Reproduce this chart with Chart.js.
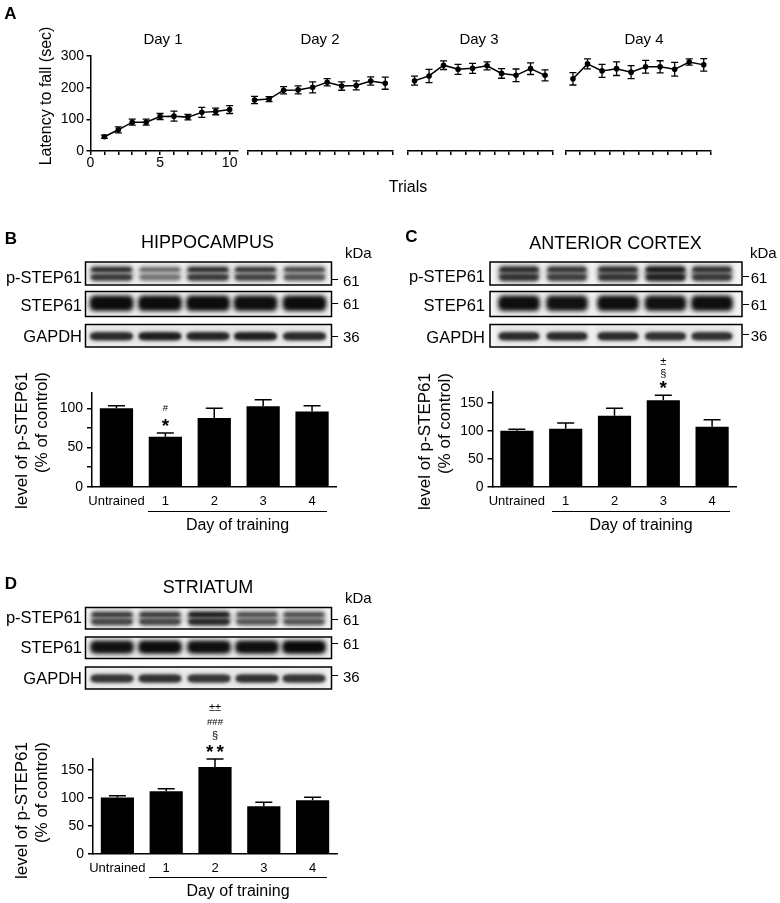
<!DOCTYPE html>
<html><head><meta charset="utf-8">
<script src="https://cdn.jsdelivr.net/npm/chart.js@4.4.1/dist/chart.umd.min.js"></script>
<style>
html,body{margin:0;padding:0;background:#fff;}
#page{position:relative;width:780px;height:903px;overflow:hidden;background:#fff;font-family:"Liberation Sans",Arial,Helvetica,sans-serif;color:#000;}
#charts canvas{position:absolute;left:0;top:0;}
.t{position:absolute;white-space:nowrap;line-height:1;transform:translate(-50%,-50%);}
.l{position:absolute;white-space:nowrap;line-height:1;transform:translate(0,-50%);}
.r{position:absolute;white-space:nowrap;line-height:1;transform:translate(-100%,-50%);}
.v{position:absolute;white-space:nowrap;line-height:1;transform-origin:0 0;transform:rotate(-90deg) translate(-50%,-50%);}
.vt{position:absolute;white-space:pre;line-height:20px;transform-origin:0 0;transform:rotate(-90deg) translate(-100%,-50%);text-align:right;font-size:17px;}
.hl{position:absolute;height:0;border-top:1.5px solid #000;}
.bold{font-weight:bold;}
</style></head><body>
<div id="page">
<div id="charts"></div>

<!-- Panel A texts -->
<div class="t bold" style="left:10.5px;top:12.5px;font-size:17px">A</div>
<div class="t" style="left:163px;top:38px;font-size:15px">Day 1</div>
<div class="t" style="left:320px;top:38px;font-size:15px">Day 2</div>
<div class="t" style="left:479px;top:38px;font-size:15px">Day 3</div>
<div class="t" style="left:644px;top:38px;font-size:15px">Day 4</div>
<div class="v" style="left:46px;top:96px;font-size:16px">Latency to fall (sec)</div>
<div class="t" style="left:408px;top:187px;font-size:16px">Trials</div>

<!-- Panel B texts -->
<div class="t bold" style="left:11px;top:237.5px;font-size:17px">B</div>
<div class="t" style="left:207.5px;top:242px;font-size:18px">HIPPOCAMPUS</div>
<div class="l" style="left:345px;top:252.3px;font-size:15px">kDa</div>
<div class="r" style="left:82px;top:276.5px;font-size:16.5px">p-STEP61</div>
<div class="r" style="left:82px;top:304.5px;font-size:16.5px">STEP61</div>
<div class="r" style="left:82px;top:336px;font-size:16.5px">GAPDH</div>
<div class="hl" style="left:331.5px;width:6px;top:279.2px"></div>
<div class="hl" style="left:331.5px;width:6px;top:302.5px"></div>
<div class="hl" style="left:331.5px;width:6px;top:335.8px"></div>
<div class="l" style="left:343px;top:280px;font-size:15px">61</div>
<div class="l" style="left:343px;top:302.5px;font-size:15px">61</div>
<div class="l" style="left:343px;top:335.5px;font-size:15px">36</div>
<div class="vt" style="left:32px;top:372px">level of p-STEP61
(% of control)</div>
<div class="hl" style="left:148.3px;width:178.4px;top:511px"></div>
<div class="t" style="left:237.5px;top:525px;font-size:16px">Day of training</div>

<!-- Panel C texts -->
<div class="t bold" style="left:411.5px;top:236px;font-size:17px">C</div>
<div class="t" style="left:615.5px;top:242.5px;font-size:18px">ANTERIOR CORTEX</div>
<div class="l" style="left:750px;top:251.7px;font-size:15px">kDa</div>
<div class="r" style="left:485px;top:276px;font-size:16.5px">p-STEP61</div>
<div class="r" style="left:485px;top:305px;font-size:16.5px">STEP61</div>
<div class="r" style="left:485px;top:336.7px;font-size:16.5px">GAPDH</div>
<div class="hl" style="left:742.5px;width:6px;top:276px"></div>
<div class="hl" style="left:742.5px;width:6px;top:303.6px"></div>
<div class="hl" style="left:742.5px;width:6px;top:334.3px"></div>
<div class="l" style="left:750.7px;top:276.7px;font-size:15px">61</div>
<div class="l" style="left:750.7px;top:304.3px;font-size:15px">61</div>
<div class="l" style="left:750.7px;top:335px;font-size:15px">36</div>
<div class="vt" style="left:435px;top:373px">level of p-STEP61
(% of control)</div>
<div class="hl" style="left:551.7px;width:178.3px;top:511px"></div>
<div class="t" style="left:641px;top:525px;font-size:16px">Day of training</div>

<!-- Panel D texts -->
<div class="t bold" style="left:11px;top:582.5px;font-size:17px">D</div>
<div class="t" style="left:208px;top:587.3px;font-size:18px">STRIATUM</div>
<div class="l" style="left:345px;top:597.3px;font-size:15px">kDa</div>
<div class="r" style="left:82px;top:617.3px;font-size:16.5px">p-STEP61</div>
<div class="r" style="left:82px;top:646.7px;font-size:16.5px">STEP61</div>
<div class="r" style="left:82px;top:678.3px;font-size:16.5px">GAPDH</div>
<div class="hl" style="left:331.5px;width:6px;top:618.6px"></div>
<div class="hl" style="left:331.5px;width:6px;top:642.6px"></div>
<div class="hl" style="left:331.5px;width:6px;top:675px"></div>
<div class="l" style="left:343px;top:619.3px;font-size:15px">61</div>
<div class="l" style="left:343px;top:643.3px;font-size:15px">61</div>
<div class="l" style="left:343px;top:675.7px;font-size:15px">36</div>
<div class="vt" style="left:32px;top:742px">level of p-STEP61
(% of control)</div>
<div class="hl" style="left:149.3px;width:177.4px;top:876.5px"></div>
<div class="t" style="left:238px;top:890.5px;font-size:16px">Day of training</div>
</div>

<script>
// ---------------- DATA ----------------
const trials = [1, 2, 3, 4, 5, 6, 7, 8, 9, 10];
const day1Mean = [45, 67, 91, 91, 109, 110, 107, 122, 125, 131];
const day1Err  = [5, 9.5, 9.5, 9.5, 9.5, 15.8, 8.4, 15.8, 10.5, 12.6];
const day2Mean = [161, 164, 192, 193, 201, 217, 205, 207, 221, 214];
const day2Err  = [11.6, 7.9, 11.6, 12.6, 17.4, 11.6, 13.2, 14.2, 13.2, 19];
const day3Mean = [222, 237, 271, 258, 261, 269, 245, 239, 260, 239];
const day3Err  = [14.2, 21, 13.7, 15.8, 15.8, 12.6, 15.3, 20, 18.4, 17.4];
const day4Mean = [228, 275, 253, 260, 249, 266, 266, 258, 281, 272];
const day4Err  = [19.5, 15.8, 20.5, 21.6, 20.5, 20, 19, 21.6, 10, 19.5];
const latencyTicks = [0, 100, 200, 300];
const day1TickLabels = [0, 5, 10];
const dayNTickLabels = [1, 5, 10];

const barCategories = ['Untrained', '1', '2', '3', '4'];
const hippoMean = [100, 63.6, 87.7, 102.5, 96];
const hippoErr  = [3.3, 5, 12.3, 8.4, 7.3];
const hippoMarks = [[], ['*', '#'], [], [], []];
const cortexMean = [100, 103.6, 126.8, 154.3, 107.1];
const cortexErr  = [2.5, 10.2, 13.2, 8.9, 12.5];
const cortexMarks = [[], [], [], ['*', '§', '±'], []];
const striatumMean = [100.7, 112, 155.4, 85.2, 96];
const striatumErr  = [3.3, 4.7, 14.2, 7.1, 5.2];
const striatumMarks = [[], [], ['**', '§', '###', '±±'], [], []];

// blot band intensities (lanes: Untrained, day 1..4)
const hippoPStep = [0.85, 0.5, 0.85, 0.8, 0.68];
const hippoStep  = [0.92, 0.92, 0.92, 0.9, 0.92];
const hippoGapdh = [0.85, 0.9, 0.88, 0.9, 0.85];
const cortexPStep = [0.8, 0.72, 0.78, 0.93, 0.75];
const cortexStep  = [0.9, 0.88, 0.9, 0.88, 0.9];
const cortexGapdh = [0.85, 0.85, 0.85, 0.82, 0.82];
const striatumPStep = [0.72, 0.72, 0.93, 0.62, 0.62];
const striatumStep  = [0.88, 0.92, 0.9, 0.9, 0.95];
const striatumGapdh = [0.8, 0.82, 0.8, 0.82, 0.8];

// ---------------- SETUP ----------------
const W = 780, H = 903;
const FONT = '"Liberation Sans", Arial, Helvetica, sans-serif';
Chart.defaults.font.family = FONT;
Chart.defaults.color = '#000';
Chart.defaults.animation = false;
Chart.defaults.responsive = false;
Chart.defaults.devicePixelRatio = 1;
Chart.defaults.plugins.legend.display = false;
Chart.defaults.plugins.tooltip.enabled = false;

const holder = document.getElementById('charts');
function makeCanvas() {
  const c = document.createElement('canvas');
  c.width = W; c.height = H;
  c.style.width = W + 'px'; c.style.height = H + 'px';
  holder.appendChild(c);
  return c;
}

const errorBarPlugin = {
  id: 'errorBars',
  afterDatasetsDraw(chart, args, opts) {
    const ctx = chart.ctx, ys = chart.scales.y;
    chart.data.datasets.forEach((ds, di) => {
      if (!ds.errors) return;
      const meta = chart.getDatasetMeta(di);
      ctx.save();
      ctx.strokeStyle = '#000';
      ctx.lineWidth = opts.lineWidth || 1.5;
      meta.data.forEach((el, i) => {
        const d = ds.data[i];
        const v = (typeof d === 'object') ? d.y : d;
        const e = ds.errors[i];
        const yTop = ys.getPixelForValue(v + e);
        const yBot = opts.twoSided ? ys.getPixelForValue(v - e) : ys.getPixelForValue(v);
        const x = el.x, hw = opts.capHalf;
        ctx.beginPath();
        ctx.moveTo(x, yBot); ctx.lineTo(x, yTop);
        ctx.moveTo(x - hw, yTop); ctx.lineTo(x + hw, yTop);
        if (opts.twoSided) { ctx.moveTo(x - hw, yBot); ctx.lineTo(x + hw, yBot); }
        ctx.stroke();
      });
      ctx.restore();
    });
  }
};

const sigPlugin = {
  id: 'sigMarks',
  afterDatasetsDraw(chart, args, opts) {
    const ds = chart.data.datasets[0];
    if (!ds.marks) return;
    const meta = chart.getDatasetMeta(0), ys = chart.scales.y, ctx = chart.ctx;
    ctx.save();
    ctx.fillStyle = '#000';
    ctx.textAlign = 'center';
    ctx.textBaseline = 'middle';
    ds.marks.forEach((list, i) => {
      if (!list || !list.length) return;
      const x = meta.data[i].x;
      const top = ys.getPixelForValue(ds.data[i] + ds.errors[i]);
      list.forEach((s, k) => {
        const y = top - opts.offsets[k];
        if (s[0] === '*') {
          ctx.font = 'bold 19px ' + FONT;
          const n = s.length, gap = 10.5;
          for (let j = 0; j < n; j++) ctx.fillText('*', x + (j - (n - 1) / 2) * gap, y + 4.2);
        } else if (s[0] === '#') {
          ctx.font = '9.5px ' + FONT;
          ctx.fillText(s, x, y);
        } else {
          ctx.font = '11px ' + FONT;
          ctx.fillText(s, x, y);
        }
      });
    });
    ctx.restore();
  }
};

function dayChart(mean, err, area, xmin, xmax, showY, shownLabels) {
  return new Chart(makeCanvas(), {
    type: 'line',
    data: { datasets: [{
      data: trials.map((t, i) => ({ x: t, y: mean[i] })),
      errors: err,
      borderColor: '#000', borderWidth: 1.5,
      pointRadius: 2.8, pointBackgroundColor: '#000', pointBorderColor: '#000', pointBorderWidth: 0,
      tension: 0
    }] },
    options: {
      layout: { padding: { left: showY ? 0 : area.left, top: area.top, right: W - area.right, bottom: H - area.bottom - 20 } },
      plugins: { errorBars: { capHalf: 3.5, twoSided: true, lineWidth: 1.3 } },
      scales: {
        x: {
          type: 'linear', min: xmin, max: xmax,
          ticks: { stepSize: 1, includeBounds: false, autoSkip: false, maxRotation: 0, maxTicksLimit: 100,
            callback: v => shownLabels.includes(v) ? String(v) : '', font: { size: 14 }, padding: 0 },
          grid: { drawOnChartArea: false, color: '#000', lineWidth: 1.5, tickLength: 4 },
          border: { color: '#000', width: 1.5 },
          afterFit: s => { s.height = 20; }
        },
        y: {
          display: showY, min: 0, max: 300,
          afterBuildTicks: s => { s.ticks = latencyTicks.map(v => ({ value: v })); },
          ticks: { font: { size: 14 }, padding: 2.5 },
          grid: { drawOnChartArea: false, color: '#000', lineWidth: 1.5, tickLength: 4 },
          border: { color: '#000', width: 1.5 },
          afterFit: s => { s.width = showY ? area.left : 0; }
        }
      }
    },
    plugins: [errorBarPlugin]
  });
}

function barChart(mean, err, marks, area, ymax, markOffsets) {
  return new Chart(makeCanvas(), {
    type: 'bar',
    data: { labels: barCategories, datasets: [{
      data: mean, errors: err, marks: marks,
      backgroundColor: '#000', borderWidth: 0, barPercentage: 0.68, categoryPercentage: 1
    }] },
    options: {
      layout: { padding: { left: 0, top: area.top, right: W - area.right, bottom: H - area.bottom - 20 } },
      plugins: { errorBars: { capHalf: 8.5, twoSided: false, lineWidth: 1.5 }, sigMarks: { offsets: markOffsets } },
      scales: {
        x: {
          grid: { display: false, drawTicks: false },
          border: { color: '#000', width: 1.5 },
          ticks: { font: { size: 13 }, padding: 6.5, autoSkip: false, maxRotation: 0 },
          afterFit: s => { s.height = 20; }
        },
        y: {
          min: 0, max: ymax,
          ticks: { stepSize: 25, includeBounds: false, callback: v => (v % 50 === 0 ? String(v) : ''), font: { size: 14 }, padding: 4 },
          grid: { drawOnChartArea: false, color: '#000', lineWidth: 1.5, tickLength: 5 },
          border: { color: '#000', width: 1.5 },
          afterFit: s => { s.width = area.left; }
        }
      }
    },
    plugins: [errorBarPlugin, sigPlugin]
  });
}

// ---------------- PANEL A ----------------
dayChart(day1Mean, day1Err, { left: 90.5, right: 238, top: 56, bottom: 151 }, 0, 10.6, true, day1TickLabels);
dayChart(day2Mean, day2Err, { left: 247.3, right: 392.5, top: 56, bottom: 151 }, 0.5, 10.5, false, dayNTickLabels);
dayChart(day3Mean, day3Err, { left: 407.3, right: 552.3, top: 56, bottom: 151 }, 0.5, 10.5, false, dayNTickLabels);
dayChart(day4Mean, day4Err, { left: 565.7, right: 711, top: 56, bottom: 151 }, 0.5, 10.5, false, dayNTickLabels);

// ---------------- BAR PANELS ----------------
barChart(hippoMean, hippoErr, hippoMarks, { left: 92, right: 336.5, top: 392.6, bottom: 486.7 }, 120, [10.5, 25]);
barChart(cortexMean, cortexErr, cortexMarks, { left: 492.5, right: 736.5, top: 391.5, bottom: 486.7 }, 170, [10.3, 21.5, 33]);
barChart(striatumMean, striatumErr, striatumMarks, { left: 93, right: 337, top: 758.8, bottom: 854 }, 170, [10.7, 23, 36.7, 51.3]);

// ---------------- BLOTS ----------------
const blotCanvas = makeCanvas();
const bctx = blotCanvas.getContext('2d');

function lensPath(ctx, cx, cy, w, h, t) {
  const x0 = cx - w / 2, x1 = cx + w / 2, yt = cy - h / 2, yb = cy + h / 2;
  ctx.beginPath();
  ctx.moveTo(x0, cy);
  ctx.bezierCurveTo(x0, yt, x0 + t * 0.3, yt, x0 + t, yt);
  ctx.lineTo(x1 - t, yt);
  ctx.bezierCurveTo(x1 - t * 0.3, yt, x1, yt, x1, cy);
  ctx.bezierCurveTo(x1, yb, x1 - t * 0.3, yb, x1 - t, yb);
  ctx.lineTo(x0 + t, yb);
  ctx.bezierCurveTo(x0 + t * 0.3, yb, x0, yb, x0, cy);
  ctx.closePath();
}

function drawRow(ctx, x0, x1, y0, y1, lanes, laneW, kind, intens, smear) {
  const h = y1 - y0;
  ctx.save();
  ctx.beginPath(); ctx.rect(x0, y0, x1 - x0, h); ctx.clip();
  ctx.fillStyle = '#f6f6f6';
  ctx.fillRect(x0, y0, x1 - x0, h);
  ctx.filter = 'blur(3px)';
  lanes.forEach((cx, i) => {
    ctx.fillStyle = 'rgba(0,0,0,' + (0.1 * intens[i]) + ')';
    ctx.fillRect(cx - laneW / 2 - 2, y0 + 2, laneW + 4, h - 4);
  });
  lanes.forEach((cx, i) => {
    const a = intens[i];
    if (kind === 'double') {
      ctx.filter = 'blur(2px)';
      ctx.fillStyle = 'rgba(0,0,0,' + (smear * a) + ')';
      lensPath(ctx, cx, y0 + h * 0.5, laneW, h * 0.72, 7); ctx.fill();
      ctx.filter = 'blur(1.4px)';
      ctx.fillStyle = 'rgba(10,10,10,' + a + ')';
      lensPath(ctx, cx, y0 + h * 0.33, laneW - 2, 4.4, 10); ctx.fill();
      ctx.fillStyle = 'rgba(10,10,10,' + (a * 0.82) + ')';
      lensPath(ctx, cx, y0 + h * 0.66, laneW - 2, 6, 10); ctx.fill();
    } else if (kind === 'thick') {
      ctx.filter = 'blur(2.2px)';
      ctx.fillStyle = 'rgba(10,10,10,' + a + ')';
      lensPath(ctx, cx, y0 + h * 0.47, laneW, h * 0.62, 9); ctx.fill();
      ctx.filter = 'blur(1.5px)';
      ctx.fillStyle = 'rgba(0,0,0,' + (a * 0.6) + ')';
      lensPath(ctx, cx, y0 + h * 0.47, laneW - 6, h * 0.4, 8); ctx.fill();
    } else {
      ctx.filter = 'blur(1.6px)';
      ctx.fillStyle = 'rgba(10,10,10,' + a + ')';
      lensPath(ctx, cx, y0 + h * 0.52, laneW, 8.5, 13); ctx.fill();
    }
  });
  ctx.restore();
  ctx.save();
  ctx.strokeStyle = '#000'; ctx.lineWidth = 1.5;
  ctx.strokeRect(x0, y0, x1 - x0, h);
  ctx.restore();
}

const lanesB = [111.5, 160, 208, 255.5, 304.5];
const lanesC = [519, 567, 618, 665.5, 712];
const lanesD = [112, 160, 209, 257, 304];

drawRow(bctx, 85.5, 331.5, 262, 285, lanesB, 43, 'double', hippoPStep, 0.35);
drawRow(bctx, 85.5, 331.5, 291.5, 316.5, lanesB, 44, 'thick', hippoStep, 0);
drawRow(bctx, 85.5, 331.5, 324.5, 347, lanesB, 43, 'thin', hippoGapdh, 0);

drawRow(bctx, 490, 742, 262, 285, lanesC, 41, 'double', cortexPStep, 0.6);
drawRow(bctx, 490, 742, 291.5, 316.5, lanesC, 42, 'thick', cortexStep, 0);
drawRow(bctx, 490, 742, 324.5, 347, lanesC, 41, 'thin', cortexGapdh, 0);

drawRow(bctx, 85.5, 331.5, 607.5, 629, lanesD, 43, 'double', striatumPStep, 0.45);
drawRow(bctx, 85.5, 331.5, 637, 658.5, lanesD, 44, 'thick', striatumStep, 0);
drawRow(bctx, 85.5, 331.5, 667, 689, lanesD, 43, 'thin', striatumGapdh, 0);
</script>
</body></html>
